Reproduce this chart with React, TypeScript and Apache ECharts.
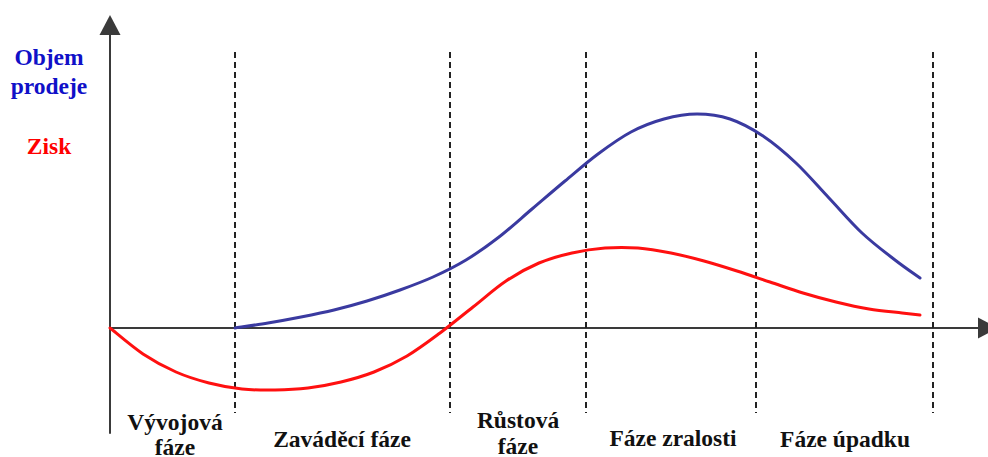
import React, { useEffect, useRef } from "react";
import * as echarts from "echarts";

// x: time (units from origin), y: value (0 = x axis)
const salesX = [125, 158, 191, 224, 257, 290, 323, 356, 389, 422, 455, 488, 521, 554, 587, 620, 653, 686, 719, 752, 785, 810];
const salesY = [0, 5, 11, 18, 27, 38, 51, 68, 91, 119, 147, 174, 196, 209, 214, 209, 192, 165, 130, 95, 68, 50];

const profitX = [0, 33, 66, 99, 132, 165, 198, 231, 264, 297, 330, 363, 396, 429, 462, 495, 528, 561, 594, 627, 660, 693, 726, 759, 792, 810];
const profitY = [0, -26, -44, -55, -61, -62, -60, -54, -44, -28, -5, 21, 47, 65, 75, 80, 80, 75, 67, 57, 46, 35, 26, 19, 15, 13];

const phaseBoundaries = [125, 340, 476, 646, 823];
const dashTop = 276;
const dashBottom = -85;

const axisLabels = [
  { text: "Objem", x: 49, y: 57, color: "#1010c8" },
  { text: "prodeje", x: 49, y: 86, color: "#1010c8" },
  { text: "Zisk", x: 49, y: 146, color: "#ff0000" },
];

const phaseLabels = [
  { lines: ["Vývojová", "fáze"], x: 175, y: [422, 447] },
  { lines: ["Zaváděcí fáze"], x: 342, y: [439] },
  { lines: ["Růstová", "fáze"], x: 518, y: [420, 446] },
  { lines: ["Fáze zralosti"], x: 673, y: [438] },
  { lines: ["Fáze úpadku"], x: 845, y: [439] },
];

function curveSeries(xs: number[], ys: number[], color: string) {
  return {
    type: "custom",
    coordinateSystem: "cartesian2d",
    data: xs.map((x, i) => [x, ys[i]]),
    encode: { x: 0, y: 1 },
    clip: false,
    silent: true,
    z: 3,
    renderItem: (params: any, api: any) => {
      if (params.dataIndex !== 0) return null;
      const pts: number[][] = xs.map((x, i) => api.coord([x, ys[i]]));
      let d = `M${pts[0][0]},${pts[0][1]}`;
      for (let i = 0; i < pts.length - 1; i++) {
        const p0 = pts[i - 1] || pts[i];
        const p1 = pts[i];
        const p2 = pts[i + 1];
        const p3 = pts[i + 2] || pts[i + 1];
        const c1x = p1[0] + (p2[0] - p0[0]) / 6;
        const c1y = p1[1] + (p2[1] - p0[1]) / 6;
        const c2x = p2[0] - (p3[0] - p1[0]) / 6;
        const c2y = p2[1] - (p3[1] - p1[1]) / 6;
        d += ` C${c1x},${c1y} ${c2x},${c2y} ${p2[0]},${p2[1]}`;
      }
      return {
        type: "path",
        shape: { pathData: d },
        style: { stroke: color, lineWidth: 3, fill: "none", lineCap: "round" },
      };
    },
  };
}

export default function App() {
  const ref = useRef<HTMLDivElement>(null);
  useEffect(() => {
    if (!ref.current) return;
    const chart = echarts.init(ref.current, undefined, { renderer: "svg" });
    const axisLine = {
      show: true,
      symbol: ["none", "triangle"],
      symbolSize: [21, 20],
      lineStyle: { color: "#3a3a3a", width: 2 },
    };
    const dashSeries = phaseBoundaries.map((bx) => ({
      type: "line",
      data: [
        [bx, dashTop],
        [bx, dashBottom],
      ],
      symbol: "none",
      silent: true,
      lineStyle: { color: "#222", width: 2, type: [6, 4] },
      z: 1,
    }));
    const mk = (text: string, x: number, y: number, fill: string) => ({
      type: "text",
      x,
      y,
      style: {
        text,
        fill,
        fontFamily: "Liberation Serif",
        fontWeight: "bold",
        fontSize: 23.5,
        align: "center",
        verticalAlign: "middle",
      },
    });
    const textItems: any[] = axisLabels.map((a) => mk(a.text, a.x, a.y, a.color));
    phaseLabels.forEach((p) => {
      p.lines.forEach((l, i) => textItems.push(mk(l, p.x, p.y[i], "#111")));
    });

    chart.setOption({
      animation: false,
      grid: { left: 110, right: 0, top: 25, bottom: 24, containLabel: false },
      xAxis: {
        type: "value",
        min: 0,
        max: 878,
        axisLine: { ...axisLine, onZero: true },
        axisTick: { show: false },
        axisLabel: { show: false },
        splitLine: { show: false },
      },
      yAxis: {
        type: "value",
        min: -105,
        max: 303,
        axisLine: { ...axisLine, onZero: false },
        axisTick: { show: false },
        axisLabel: { show: false },
        splitLine: { show: false },
      },
      series: [
        ...dashSeries,
        curveSeries(profitX, profitY, "#ff1010"),
        curveSeries(salesX, salesY, "#3a3aa0"),
      ],
      graphic: textItems,
    });
    return () => chart.dispose();
  }, []);
  return (
    <div
      ref={ref}
      style={{ position: "absolute", left: 0, top: 0, width: 988, height: 457, background: "#fff" }}
    />
  );
}
